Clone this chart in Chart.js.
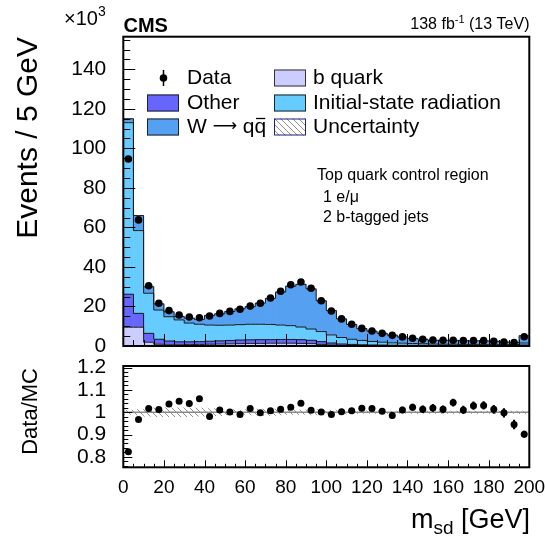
<!DOCTYPE html>
<html>
<head>
<meta charset="utf-8">
<script src="https://cdn.jsdelivr.net/npm/chart.js@4.4.1/dist/chart.umd.min.js"></script>
<style>
html, body { margin: 0; padding: 0; background: #fff; }
#wrap { position: relative; width: 545px; height: 538px; }
#wrap canvas { position: absolute; left: 0; }
#mainCanvas { top: 0; }
#ratioCanvas { top: 356px; }
</style>
</head>
<body>
<div id="wrap">
  <canvas id="mainCanvas" width="545" height="356"></canvas>
  <canvas id="ratioCanvas" width="545" height="182"></canvas>
</div>
<script>
'use strict';

// m_sd bins, 5 GeV wide from 0 to 200 GeV
var binCenters = Array.from({ length: 40 }, function(_, i) { return 2.5 + 5 * i; });

// stacked simulation (x10^3 events per bin)
var bQuark = [9.5, 9.5, 1.9, 0.9, 0.6, 0.6, 0.7, 0.8, 0.9, 1.0, 1.1, 1.2, 1.3, 1.3, 1.4, 1.4, 1.4, 1.3, 1.2, 0.8,
              0.5, 0.3, 0.3, 0.2, 0.2, 0.2, 0.15, 0.15, 0.15, 0.15, 0.1, 0.1, 0.1, 0.1, 0.1, 0.1, 0.1, 0.1, 0.1, 0.2];
var other = [16.7, 7.0, 4.5, 2.5, 1.9, 1.5, 1.4, 1.4, 1.5, 1.6, 1.7, 1.8, 1.8, 1.9, 1.8, 1.9, 1.9, 1.9, 1.7, 1.4,
             1.0, 0.7, 0.5, 0.4, 0.3, 0.25, 0.25, 0.2, 0.2, 0.2, 0.2, 0.2, 0.2, 0.2, 0.2, 0.2, 0.2, 0.2, 0.2, 0.3];
var isr = [86.8, 41.9, 20.3, 14.8, 12.3, 11.1, 9.5, 8.8, 8.2, 7.9, 7.8, 7.8, 7.9, 7.8, 7.7, 7.3, 7.0, 6.4, 5.7, 5.1,
           4.1, 3.3, 2.6, 2.2, 1.8, 1.5, 1.2, 1.1, 0.9, 0.8, 0.7, 0.6, 0.6, 0.5, 0.5, 0.5, 0.4, 0.4, 0.4, 1.0];
var wqq = [2.0, 7.6, 3.3, 3.1, 2.5, 1.8, 2.5, 2.5, 4.9, 5.8, 6.9, 8.0, 8.9, 10.7, 13.2, 16.7, 20.0, 21.6, 20.3, 15.6,
           12.3, 9.4, 7.5, 6.0, 5.2, 4.5, 3.9, 3.1, 2.6, 2.3, 1.9, 2.0, 2.0, 1.9, 1.8, 1.8, 1.7, 1.3, 1.1, 3.7];

// observed data (x10^3)
var dataVals = [94.6, 63.8, 30.5, 21.6, 17.9, 15.7, 14.7, 14.3, 15.2, 16.5, 17.5, 18.6, 20.2, 21.6, 24.3, 27.7, 31.0, 32.4, 29.2, 22.9,
                17.7, 13.7, 11.0, 8.9, 7.6, 6.4, 5.4, 4.6, 3.9, 3.4, 3.0, 2.9, 2.9, 2.7, 2.7, 2.7, 2.4, 2.0, 1.7, 4.7];

// Data/MC ratio panel
var ratioVals = [0.823, 0.967, 1.016, 1.012, 1.037, 1.049, 1.039, 1.060, 0.981, 1.010, 1.001, 0.990, 1.016, 0.997, 1.007, 1.013, 1.022, 1.040, 1.009, 1.001,
                 0.990, 1.002, 1.007, 1.018, 1.017, 1.004, 0.985, 1.010, 1.022, 1.013, 1.019, 1.013, 1.043, 1.010, 1.029, 1.030, 1.013, 0.997, 0.945, 0.901];
var ratioErr = [0.002, 0.003, 0.004, 0.005, 0.006, 0.006, 0.006, 0.006, 0.006, 0.006, 0.006, 0.006, 0.005, 0.005, 0.005, 0.005, 0.004, 0.004, 0.004, 0.005,
                0.006, 0.007, 0.008, 0.009, 0.010, 0.011, 0.012, 0.013, 0.014, 0.015, 0.016, 0.016, 0.016, 0.017, 0.017, 0.017, 0.018, 0.019, 0.020, 0.014];
var uncBand = [0.010, 0.012, 0.018, 0.020, 0.020, 0.020, 0.020, 0.018, 0.016, 0.016, 0.012, 0.010, 0.012, 0.014, 0.014, 0.012, 0.010, 0.010, 0.012, 0.012,
               0.010, 0.008, 0.008, 0.006, 0.006, 0.006, 0.005, 0.005, 0.005, 0.005, 0.005, 0.005, 0.005, 0.005, 0.005, 0.005, 0.005, 0.005, 0.005, 0.005];
var refLine = [1, 1];

// axis tick labels
var xTicks = [0, 20, 40, 60, 80, 100, 120, 140, 160, 180, 200];
var yTicksMain = [0, 20, 40, 60, 80, 100, 120, 140];
var yTicksRatio = [0.8, 0.9, 1, 1.1, 1.2];

var FONT = '"Liberation Sans", Arial, Helvetica, sans-serif';
Chart.defaults.font.family = FONT;
Chart.defaults.color = '#000';

var colB = '#ccccff', colOther = '#6666ff', colIsr = '#66ccff', colW = '#55a0f0';

function font(size, bold, family) { return (bold ? 'bold ' : '') + size + 'px ' + (family || FONT); }

function range(from, to, step) {
  var out = [];
  for (var v = from; v <= to + step / 1000; v += step) out.push(Math.round(v * 1000) / 1000);
  return out;
}

// hatch used for the uncertainty
var hatchCanvas = document.createElement('canvas');
hatchCanvas.width = 6; hatchCanvas.height = 6;
var hg = hatchCanvas.getContext('2d');
hg.strokeStyle = '#8f8f8f'; hg.lineWidth = 1;
hg.beginPath();
hg.moveTo(0, 0); hg.lineTo(6, 6);
hg.moveTo(-1, 5); hg.lineTo(1, 7);
hg.moveTo(5, -1); hg.lineTo(7, 1);
hg.stroke();
var hatch = hg.createPattern(hatchCanvas, 'repeat');

// text with sub/superscript pieces
function drawRuns(ctx, runs, x, y, align, baseline) {
  var total = 0;
  runs.forEach(function(r) { ctx.font = font(r.size, r.bold, r.family); r.w = ctx.measureText(r.text).width; total += r.w; });
  var cx = align === 'right' ? x - total : x;
  ctx.textAlign = 'left'; ctx.textBaseline = baseline || 'alphabetic';
  runs.forEach(function(r) { ctx.font = font(r.size, r.bold, r.family); ctx.fillText(r.text, cx, y + (r.dy || 0)); cx += r.w; });
  return cx;
}

// keep the plot frame exactly where it is in the figure
function noScalePadding(s) {
  s.paddingTop = 0; s.paddingBottom = 0; s.paddingLeft = 0; s.paddingRight = 0;
}

// ROOT style inward ticks + frame
function drawFrame(chart, spec) {
  var ctx = chart.ctx, a = chart.chartArea, xs = chart.scales.x, ys = chart.scales.y;
  ctx.save();
  ctx.strokeStyle = '#000'; ctx.lineWidth = 1;
  ctx.beginPath();
  spec.yMinor.forEach(function(v) {
    var p = Math.round(ys.getPixelForValue(v)) + 0.5;
    ctx.moveTo(a.left, p); ctx.lineTo(a.left + spec.yMinorLen, p);
  });
  spec.yMajor.forEach(function(v) {
    var p = Math.round(ys.getPixelForValue(v)) + 0.5;
    ctx.moveTo(a.left, p); ctx.lineTo(a.left + spec.yMajorLen, p);
  });
  range(0, 200, 5).forEach(function(v) {
    var p = Math.round(xs.getPixelForValue(v)) + 0.5;
    var len = xTicks.indexOf(v) >= 0 ? spec.xMajorLen : spec.xMinorLen;
    ctx.moveTo(p, a.bottom); ctx.lineTo(p, a.bottom - len);
  });
  ctx.stroke();
  ctx.lineWidth = 2;
  ctx.strokeRect(a.left, a.top, a.right - a.left, a.bottom - a.top);
  ctx.restore();
}

function histData(vals) {
  return vals.map(function(v, i) { return { x: binCenters[i], y: v }; });
}

// step outline through bin edges
function stepPoints(vals) {
  var pts = [{ x: 0, y: vals[0] }];
  vals.forEach(function(v, i) { pts.push({ x: binCenters[i], y: v }); });
  pts.push({ x: 200, y: vals[vals.length - 1] });
  return pts;
}

function barSet(label, vals, color) {
  return {
    type: 'bar', label: label, data: histData(vals), backgroundColor: color,
    borderWidth: 0, stack: 'mc', order: 3, barPercentage: 1, categoryPercentage: 1
  };
}

function outlineSet(vals, id) {
  return {
    type: 'line', data: stepPoints(vals), stepped: 'middle', borderColor: '#1a1a1a',
    borderWidth: 1, pointRadius: 0, fill: false, stack: id, order: 2
  };
}

var cumB = bQuark.slice();
var cumO = cumB.map(function(v, i) { return v + other[i]; });
var cumI = cumO.map(function(v, i) { return v + isr[i]; });
var cumW = cumI.map(function(v, i) { return v + wqq[i]; });

var mainDecor = {
  id: 'mainDecor',
  afterDraw: function(chart) {
    var ctx = chart.ctx;
    drawFrame(chart, {
      yMajor: yTicksMain, yMinor: range(0, 155, 5), yMajorLen: 12, yMinorLen: 7,
      xMajorLen: 12, xMinorLen: 6
    });
    ctx.save();
    ctx.fillStyle = '#000';
    drawRuns(ctx, [{ text: 'CMS', size: 20, bold: true }], 123.5, 31.5);
    drawRuns(ctx, [{ text: '\u00d710', size: 20 }, { text: '3', size: 14, dy: -9 }], 64, 25);
    drawRuns(ctx, [{ text: '138 fb', size: 16 }, { text: '-1', size: 11, dy: -6 }, { text: ' (13 TeV)', size: 16 }], 529.5, 29, 'right');

    // axis title
    ctx.save();
    ctx.translate(37, 37);
    ctx.rotate(-Math.PI / 2);
    ctx.font = font(30);
    ctx.textAlign = 'right'; ctx.textBaseline = 'alphabetic';
    ctx.fillText('Events / 5 GeV', 0, 0);
    ctx.restore();

    // legend
    var rows = [78, 103, 127];
    function box(x, y, fill, stroke) {
      ctx.fillStyle = fill; ctx.fillRect(x, y - 8.5, 32, 17);
      ctx.strokeStyle = stroke; ctx.lineWidth = 1; ctx.strokeRect(x + 0.5, y - 8, 31, 16);
    }
    ctx.strokeStyle = '#000'; ctx.lineWidth = 1.5;
    ctx.beginPath(); ctx.moveTo(163.5, rows[0] - 8); ctx.lineTo(163.5, rows[0] + 8); ctx.stroke();
    ctx.fillStyle = '#000';
    ctx.beginPath(); ctx.arc(163.5, rows[0], 3.8, 0, Math.PI * 2); ctx.fill();
    box(147, rows[1], colOther, '#222');
    box(147, rows[2], colW, '#222');
    box(274, rows[0], colB, '#333');
    box(274, rows[1], colIsr, '#222');
    box(274, rows[2], hatch, '#1a237e');

    ctx.fillStyle = '#000';
    ctx.font = font(21);
    ctx.textAlign = 'left'; ctx.textBaseline = 'middle';
    ctx.fillText('Data', 187, rows[0]);
    ctx.fillText('Other', 187, rows[1]);
    var wEnd = drawRuns(ctx, [
      { text: 'W ', size: 21 },
      { text: '\u27f6', size: 17, family: '"DejaVu Sans", sans-serif' },
      { text: ' qq', size: 21 }
    ], 187, rows[2], 'left', 'middle');
    ctx.font = font(21);
    var qW = ctx.measureText('q').width;
    ctx.strokeStyle = '#000'; ctx.lineWidth = 1.3;
    ctx.beginPath(); ctx.moveTo(wEnd - qW + 1.5, rows[2] - 8.5); ctx.lineTo(wEnd - 1, rows[2] - 8.5); ctx.stroke();
    ctx.textAlign = 'left'; ctx.textBaseline = 'middle';
    ctx.fillText('b quark', 313, rows[0]);
    ctx.fillText('Initial-state radiation', 313, rows[1]);
    ctx.fillText('Uncertainty', 313, rows[2]);

    // region label
    ctx.textBaseline = 'alphabetic';
    ctx.font = font(16);
    ctx.fillText('Top quark control region', 317, 180);
    ctx.fillText('1 e/\u03bc', 323, 201.5);
    ctx.fillText('2 b-tagged jets', 323, 221.5);
    ctx.restore();
  }
};

new Chart(document.getElementById('mainCanvas'), {
  type: 'bar',
  data: {
    datasets: [
      barSet('b quark', bQuark, colB),
      barSet('Other', other, colOther),
      barSet('Initial-state radiation', isr, colIsr),
      barSet('W \u2192 qq', wqq, colW),
      outlineSet(cumB, 'o1'),
      outlineSet(cumO, 'o2'),
      outlineSet(cumI, 'o3'),
      outlineSet(cumW, 'o4'),
      {
        type: 'scatter', label: 'Data', data: histData(dataVals), backgroundColor: '#000', borderColor: '#000',
        pointRadius: 3.8, borderWidth: 0, stack: 'data', order: 0
      }
    ]
  },
  options: {
    responsive: false,
    animation: false,
    devicePixelRatio: 1,
    layout: { padding: { top: 36.7, right: 15.7, left: 0, bottom: 0 } },
    plugins: { legend: { display: false }, tooltip: { enabled: false } },
    scales: {
      x: {
        type: 'linear', min: 0, max: 200, offset: false, bounds: 'data',
        grid: { display: false, drawTicks: false }, border: { display: false },
        ticks: { display: false },
        afterFit: function(s) { s.height = 10; noScalePadding(s); }
      },
      y: {
        type: 'linear', stacked: true, min: 0, max: 156.5, bounds: 'data',
        grid: { display: false, drawTicks: false }, border: { display: false },
        ticks: { font: { size: 21 }, color: '#000', padding: 17, autoSkip: false, callback: function(v) { return String(v); } },
        afterBuildTicks: function(s) { s.ticks = yTicksMain.map(function(v) { return { value: v }; }); },
        afterFit: function(s) { s.width = 123.3; noScalePadding(s); }
      }
    }
  },
  plugins: [mainDecor]
});

var ratioDecor = {
  id: 'ratioDecor',
  afterDraw: function(chart) {
    var ctx = chart.ctx;
    drawFrame(chart, {
      yMajor: yTicksRatio, yMinor: range(0.76, 1.2, 0.02), yMajorLen: 9, yMinorLen: 5,
      xMajorLen: 7, xMinorLen: 3.5
    });
    ctx.save();
    ctx.fillStyle = '#000';
    ctx.translate(37, 12);
    ctx.rotate(-Math.PI / 2);
    ctx.font = font(22);
    ctx.textAlign = 'right'; ctx.textBaseline = 'alphabetic';
    ctx.fillText('Data/MC', 0, 0);
    ctx.restore();
    ctx.save();
    ctx.fillStyle = '#000';
    drawRuns(ctx, [{ text: 'm', size: 27 }, { text: 'sd', size: 19, dy: 6 }, { text: ' [GeV]', size: 27 }], 530, 172, 'right');
    ctx.restore();
  }
};

new Chart(document.getElementById('ratioCanvas'), {
  type: 'bar',
  data: {
    datasets: [
      {
        type: 'bar', data: uncBand.map(function(u, i) { return { x: binCenters[i], y: [1 - u, 1 + u] }; }),
        backgroundColor: hatch, borderWidth: 0, grouped: false, barPercentage: 1, categoryPercentage: 1, order: 3
      },
      {
        type: 'line', data: [{ x: 0, y: refLine[0] }, { x: 200, y: refLine[1] }],
        borderColor: '#8a8a8a', borderWidth: 1.5, pointRadius: 0, fill: false, order: 2
      },
      {
        type: 'bar', data: ratioVals.map(function(r, i) { return { x: binCenters[i], y: [r - ratioErr[i], r + ratioErr[i]] }; }),
        backgroundColor: '#000', borderWidth: 0, grouped: false, barThickness: 1.5, order: 1
      },
      {
        type: 'scatter', data: histData(ratioVals), backgroundColor: '#000', borderColor: '#000',
        pointRadius: 3.5, borderWidth: 0, order: 0
      }
    ]
  },
  options: {
    responsive: false,
    animation: false,
    devicePixelRatio: 1,
    layout: { padding: { top: 10, right: 15.7, left: 0, bottom: 0 } },
    plugins: { legend: { display: false }, tooltip: { enabled: false } },
    scales: {
      x: {
        type: 'linear', min: 0, max: 200, offset: false, bounds: 'data',
        grid: { display: false, drawTicks: false }, border: { display: false },
        ticks: { font: { size: 19 }, color: '#000', padding: 9, maxRotation: 0, autoSkip: false },
        afterBuildTicks: function(s) { s.ticks = xTicks.map(function(v) { return { value: v }; }); },
        afterFit: function(s) { s.height = 70.7; noScalePadding(s); }
      },
      y: {
        type: 'linear', min: 0.753, max: 1.207, bounds: 'data',
        grid: { display: false, drawTicks: false }, border: { display: false },
        ticks: { font: { size: 21 }, color: '#000', padding: 17, autoSkip: false, callback: function(v) { return String(Math.round(v * 10) / 10); } },
        afterBuildTicks: function(s) { s.ticks = yTicksRatio.map(function(v) { return { value: v }; }); },
        afterFit: function(s) { s.width = 123.3; noScalePadding(s); }
      }
    }
  },
  plugins: [ratioDecor]
});
</script>
</body>
</html>
